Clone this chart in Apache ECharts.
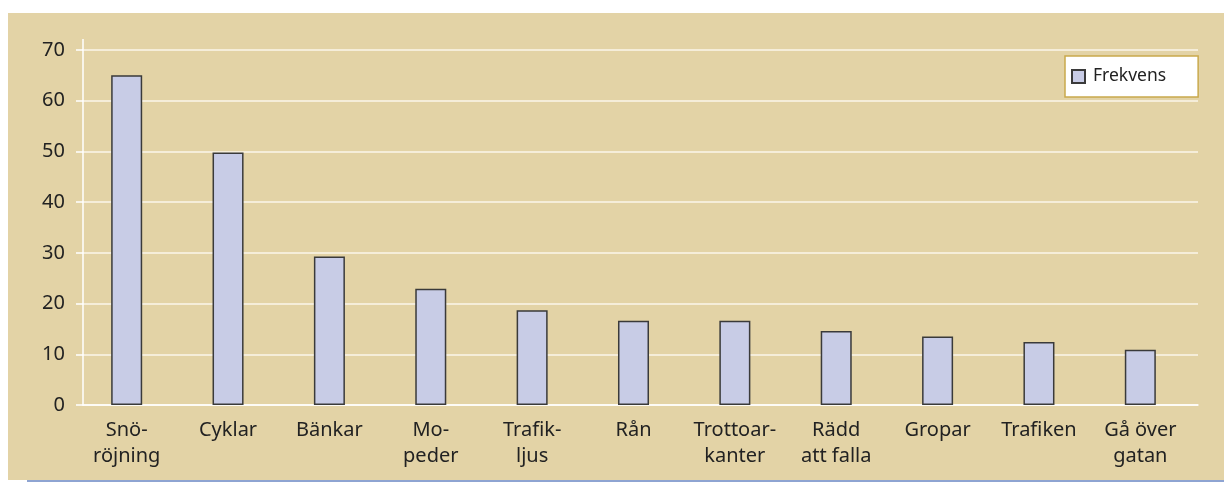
<!DOCTYPE html>
<html><head><meta charset="utf-8">
<script src="https://cdn.jsdelivr.net/npm/echarts@6/dist/echarts.min.js"></script>
<style>html,body{margin:0;padding:0;background:#fff}#c{width:1224px;height:483px}</style>
</head><body><div id="c"></div>
<script>
const categories = ['Snö-\nröjning','Cyklar','Bänkar','Mo-\npeder','Trafik-\nljus','Rån','Trottoar-\nkanter','Rädd\natt falla','Gropar','Trafiken','Gå över\ngatan'];
const values = [65, 49.8, 29.3, 22.9, 18.7, 16.6, 16.6, 14.6, 13.5, 12.4, 10.9];
const yTicks = {min:0, max:70, interval:10};
const seriesName = 'Frekvens';
const FONT = 'Noto Sans';
const chart = echarts.init(document.getElementById('c'), null, {renderer:'canvas'});
chart.setOption({
  backgroundColor:'#ffffff',
  animation:false,
  textStyle:{fontFamily:FONT},
  graphic:[
    {type:'rect', z:-10, silent:true, shape:{x:8,y:13,width:1216,height:467}, style:{fill:'#e3d3a6'}},
    {type:'line', z:-10, silent:true, shape:{x1:27,y1:481,x2:1224,y2:481}, style:{stroke:'#8ea4d2',lineWidth:2}}
  ],
  grid:[
    {left:83,right:26,top:50,bottom:78,containLabel:false},
    {left:76,right:33,top:50,bottom:78,containLabel:false}
  ],
  legend:{
    data:[seriesName], left:1065, top:56, orient:'vertical',
    backgroundColor:'#ffffff', borderColor:'#c9a94c', borderWidth:1.5,
    padding:[10,32,10,6], itemWidth:13, itemHeight:13, itemGap:0,
    icon:'rect',
    textStyle:{fontFamily:FONT,fontSize:17.5,lineHeight:21,color:'#222',padding:[0,0,0,3]}
  },
  xAxis:[{
    gridIndex:0, type:'category', data:categories,
    axisLine:{lineStyle:{color:'#ffffff',width:1.5}},
    axisTick:{show:false}, axisLabel:{show:false}
  },{
    gridIndex:1, type:'category', data:categories,
    axisLine:{show:false}, axisTick:{show:false},
    axisLabel:{fontFamily:FONT,fontSize:20,color:'#222',lineHeight:26,margin:12,interval:0}
  }],
  yAxis:[{
    gridIndex:0, type:'value', min:yTicks.min, max:yTicks.max, interval:yTicks.interval,
    axisLine:{show:true,lineStyle:{color:'#ffffff',width:1.5}},
    axisTick:{show:true,length:7,lineStyle:{color:'#ffffff',width:1.5}},
    splitLine:{lineStyle:{color:'#fbf6ea',width:1.5}},
    axisLabel:{fontFamily:FONT,fontSize:20,color:'#222',margin:18}
  },{
    gridIndex:1, type:'value', min:yTicks.min, max:yTicks.max, interval:yTicks.interval, show:false
  }],
  series:[{
    name:seriesName, type:'bar', data:values, barWidth:'30.6%', xAxisIndex:1, yAxisIndex:1,
    itemStyle:{color:'#c8cce6',borderColor:'#3a3a3a',borderWidth:1.5}
  }]
});
const py = chart.convertToPixel({yAxisIndex:0}, yTicks.max);
const gx = chart.convertToPixel({xAxisIndex:0}, 0) - (chart.convertToPixel({xAxisIndex:0}, 1) - chart.convertToPixel({xAxisIndex:0}, 0)) / 2;
chart.setOption({graphic:[{},{},{type:'line',silent:true,shape:{x1:gx,y1:py-11,x2:gx,y2:py},style:{stroke:'#ffffff',lineWidth:1.5}}]});
</script></body></html>
